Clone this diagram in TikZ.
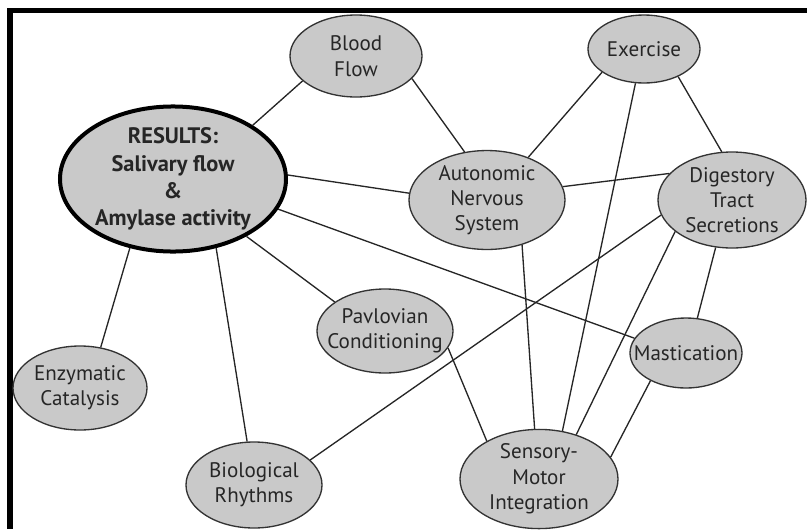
\documentclass[tikz,border=0pt]{standalone}
\usepackage{fontspec}
\setmainfont{PT Sans}
\usetikzlibrary{shapes.geometric}

\begin{document}
\begin{tikzpicture}[x=0.75pt,y=-0.75pt]
\newcommand\topic[6]{
\node[draw=black!80,line width=1pt,fill=black!21,ellipse,inner ysep=0pt,inner xsep=-10pt,
  minimum width=#4*1.5pt,minimum height=#5*1.5pt,align=center,text=black!85,
  font=\fontsize{15.8}{19}\selectfont] (#1) at (#2,#3) {#6};
}
\useasboundingbox (0,0) rectangle (807,529);
% frame
\fill (7,8) rectangle (807,13);
\fill (7,8) rectangle (13,529);
% topics
\node[draw=black,line width=3pt,fill=black!21,ellipse,inner sep=0pt,
  minimum width=226*0.75pt,minimum height=142*0.75pt,align=center,text=black!85,
  font=\fontsize{16.8}{20.5}\selectfont\bfseries] (res) at (173,179)
  {RESULTS:\\Salivary flow\\\&\\Amylase activity};
\topic{blood}{356}{56}{66}{41}{Blood\\Flow}
\topic{exer}{644}{49}{56}{34}{Exercise}
\topic{ans}{487}{200}{78}{48}{Autonomic\\Nervous\\System}
\topic{dig}{732}{200}{74}{48}{Digestory\\Tract\\Secretions}
\topic{enz}{80}{388}{67}{42}{Enzymatic\\Catalysis}
\topic{bio}{254}{485}{68}{43}{Biological\\Rhythms}
\topic{pav}{385}{331}{68}{42}{Pavlovian\\Conditioning}
\topic{mast}{686}{353}{56}{35}{Mastication}
\topic{smi}{539}{479}{79}{49}{Sensory-\\Motor\\Integration}
% links
\foreach \a/\p/\b/\q in {res/34/blood/205, blood/-22/ans/115, res/2/ans/175,
  ans/46/exer/209, ans/10/dig/157, exer/-39/dig/102, exer/-104/smi/64,
  res/-16/mast/164, res/-38/pav/150, res/-58/bio/99, res/-122/enz/63,
  dig/192/bio/24, dig/209/smi/50, dig/-109/mast/72, ans/-52/smi/95,
  pav/-15/smi/144, mast/218/smi/17}
  \draw[black!85,line width=1pt] (\a.\p) -- (\b.\q);
\end{tikzpicture}
\end{document}
